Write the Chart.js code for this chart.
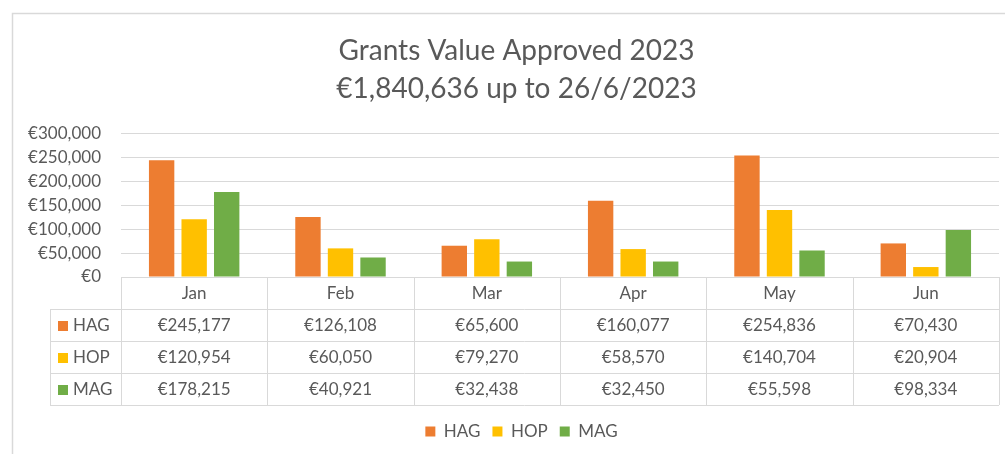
<!DOCTYPE html>
<html>
<head>
<meta charset="utf-8">
<script src="https://cdn.jsdelivr.net/npm/chart.js@4/dist/chart.umd.min.js"></script>
<style>
  html, body { margin: 0; padding: 0; background: #fff; }
  #wrap { width: 1005px; height: 454px; }
</style>
</head>
<body>
<div id="wrap"><canvas id="grants"></canvas></div>
<script>
const months = ['Jan', 'Feb', 'Mar', 'Apr', 'May', 'Jun'];
const seriesNames = ['HAG', 'HOP', 'MAG'];
const hagValues = [245177, 126108, 65600, 160077, 254836, 70430];
const hopValues = [120954, 60050, 79270, 58570, 140704, 20904];
const magValues = [178215, 40921, 32438, 32450, 55598, 98334];
const seriesColors = ['#ED7D31', '#FFC000', '#70AD47'];
const titleLines = ['Grants Value Approved 2023', '€1,840,636 up to 26/6/2023'];

const textColor = '#595959';
const lineColor = '#d9d9d9';
const fontFamily = 'Lato, "Open Sans", sans-serif';
const euro = v => '€' + Number(v).toLocaleString('en-US');

// frame round the whole chart (top and left edges only are visible)
const framePlugin = {
  id: 'frame',
  beforeDraw(chart) {
    const ctx = chart.ctx;
    ctx.save();
    ctx.fillStyle = '#fff';
    ctx.fillRect(0, 0, chart.width, chart.height);
    ctx.strokeStyle = lineColor;
    ctx.lineWidth = 1.5;
    ctx.beginPath();
    ctx.moveTo(12.5, chart.height);
    ctx.lineTo(12.5, 13.5);
    ctx.lineTo(chart.width, 13.5);
    ctx.stroke();
    ctx.restore();
  }
};

// title and legend sit a bit right of the canvas centre in the original
const nudgePlugin = {
  id: 'nudge',
  afterLayout(chart) {
    if (chart.titleBlock) { chart.titleBlock.left += 11; chart.titleBlock.right += 11; }
    if (chart.legend) { chart.legend.left += 16; chart.legend.right += 16; }
  }
};

// excel style data table under the plot
const tablePlugin = {
  id: 'dataTable',
  afterDraw(chart) {
    const ctx = chart.ctx;
    const area = chart.chartArea;
    const x = chart.scales.x;
    const n = chart.data.labels.length;
    const colW = (area.right - area.left) / n;
    const rowH = 32;
    const top = area.bottom;
    const labelLeft = 50;
    const sets = chart.data.datasets;

    ctx.save();
    ctx.strokeStyle = lineColor;
    ctx.lineWidth = 1;
    ctx.beginPath();
    // horizontal lines
    ctx.moveTo(area.left, top + 0.5);
    ctx.lineTo(area.right, top + 0.5);
    for (let r = 1; r <= sets.length + 1; r++) {
      const y = Math.round(top + r * rowH) + 0.5;
      ctx.moveTo(labelLeft, y);
      ctx.lineTo(area.right, y);
    }
    // vertical lines
    for (let c = 0; c <= n; c++) {
      const xx = Math.round(area.left + c * colW) + 0.5;
      ctx.moveTo(xx, top);
      ctx.lineTo(xx, top + rowH * (sets.length + 1));
    }
    ctx.moveTo(labelLeft + 0.5, top + rowH);
    ctx.lineTo(labelLeft + 0.5, top + rowH * (sets.length + 1));
    ctx.stroke();

    ctx.font = '17px ' + fontFamily;
    ctx.fillStyle = textColor;
    ctx.textBaseline = 'middle';
    ctx.textAlign = 'center';
    chart.data.labels.forEach((m, i) => {
      ctx.fillText(m, x.getPixelForValue(i), top + rowH / 2 + 1);
    });
    sets.forEach((ds, r) => {
      const yMid = top + rowH * (r + 1) + rowH / 2 + 1;
      ctx.fillStyle = ds.backgroundColor;
      ctx.fillRect(58, yMid - 5, 10, 10);
      ctx.fillStyle = textColor;
      ctx.textAlign = 'left';
      ctx.fillText(ds.label, 73, yMid);
      ctx.textAlign = 'center';
      ds.data.forEach((v, i) => {
        ctx.fillText(euro(v), x.getPixelForValue(i), yMid);
      });
    });
    ctx.restore();
  }
};

const seriesValues = [hagValues, hopValues, magValues];
const datasets = seriesNames.map((name, i) => ({
  label: name,
  data: seriesValues[i],
  backgroundColor: seriesColors[i],
  categoryPercentage: 0.667,
  barPercentage: 0.78
}));

const ctx = document.getElementById('grants').getContext('2d');
new Chart(ctx, {
  type: 'bar',
  data: { labels: months, datasets: datasets },
  plugins: [framePlugin, nudgePlugin, tablePlugin],
  options: {
    responsive: true,
    maintainAspectRatio: false,
    animation: false,
    layout: { padding: { top: 14, left: 12, right: 6, bottom: 4 } },
    scales: {
      x: {
        grid: { display: false },
        border: { display: false },
        ticks: { display: false },
        afterFit: scale => { scale.height = 134; }
      },
      y: {
        min: 0,
        max: 300000,
        ticks: {
          stepSize: 50000,
          autoSkip: false,
          padding: 20,
          color: textColor,
          font: { family: fontFamily, size: 17 },
          callback: v => euro(v)
        },
        grid: { color: lineColor, drawTicks: false },
        border: { display: false },
        afterFit: scale => { scale.width = 121 - 12; }
      }
    },
    plugins: {
      title: {
        display: true,
        text: titleLines,
        color: textColor,
        font: { family: fontFamily, size: 28, weight: 'normal', lineHeight: 1.357 },
        padding: { top: 18, bottom: 26 }
      },
      legend: {
        position: 'bottom',
        labels: {
          color: textColor,
          font: { family: fontFamily, size: 17 },
          boxWidth: 10,
          boxHeight: 10,
          padding: 12
        }
      },
      tooltip: { enabled: true }
    }
  }
});
</script>
</body>
</html>
